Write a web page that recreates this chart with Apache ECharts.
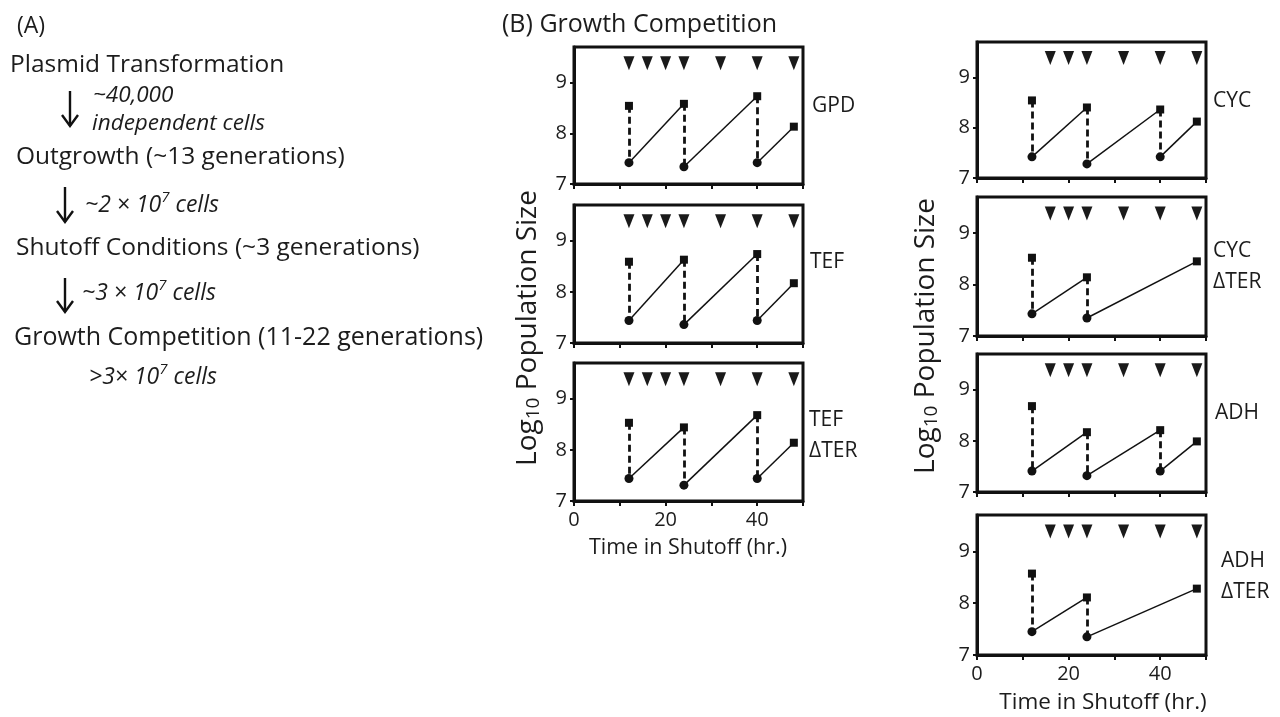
<!DOCTYPE html>
<html>
<head>
<meta charset="utf-8">
<script src="https://cdn.jsdelivr.net/npm/echarts@6/dist/echarts.min.js"></script>
<style>
  html, body { margin: 0; padding: 0; background: #fff; }
  #chart { width: 1280px; height: 717px; }
</style>
</head>
<body>
<div id="chart"></div>
<script>
// ---- Data: log10 population size around each transfer (hr in shutoff) ----
const panelNames = ['GPD', 'TEF', 'TEF\nΔTER', 'CYC', 'CYC\nΔTER', 'ADH', 'ADH\nΔTER'];

const gpdTimes = [12, 24, 40, 48];
const gpdPeak = [8.54, 8.58, 8.73, 8.13];      // before dilution
const gpdDiluted = [7.42, 7.34, 7.42];         // after dilution

const tefTimes = [12, 24, 40, 48];
const tefPeak = [8.59, 8.63, 8.74, 8.17];
const tefDiluted = [7.44, 7.36, 7.44];

const tefDterTimes = [12, 24, 40, 48];
const tefDterPeak = [8.53, 8.44, 8.68, 8.14];
const tefDterDiluted = [7.44, 7.31, 7.44];

const cycTimes = [12, 24, 40, 48];
const cycPeak = [8.54, 8.40, 8.36, 8.12];
const cycDiluted = [7.42, 7.28, 7.42];

const cycDterTimes = [12, 24, 48];
const cycDterPeak = [8.52, 8.14, 8.45];
const cycDterDiluted = [7.43, 7.35];

const adhTimes = [12, 24, 40, 48];
const adhPeak = [8.68, 8.17, 8.21, 7.99];
const adhDiluted = [7.41, 7.32, 7.41];

const adhDterTimes = [12, 24, 48];
const adhDterPeak = [8.57, 8.11, 8.28];
const adhDterDiluted = [7.45, 7.35];

// sampling times (triangles)
const samplingLeft = [12, 16, 20, 24, 32, 40, 48];
const samplingRight = [16, 20, 24, 32, 40, 48];

// tick labels
const yTickValues = [7, 8, 9];
const xTickLabels = [0, 20, 40];

// ---- Styling / layout ----
const INK = '#111111';
const TEXT = '#1c1c1c';
const FONT = '"Open Sans", "Noto Sans", sans-serif';
const MARK_LEVEL = 9.38;

const panels = [
  { times: gpdTimes, peak: gpdPeak, diluted: gpdDiluted, sampling: samplingLeft },
  { times: tefTimes, peak: tefPeak, diluted: tefDiluted, sampling: samplingLeft },
  { times: tefDterTimes, peak: tefDterPeak, diluted: tefDterDiluted, sampling: samplingLeft },
  { times: cycTimes, peak: cycPeak, diluted: cycDiluted, sampling: samplingRight },
  { times: cycDterTimes, peak: cycDterPeak, diluted: cycDterDiluted, sampling: samplingRight },
  { times: adhTimes, peak: adhPeak, diluted: adhDiluted, sampling: samplingRight },
  { times: adhDterTimes, peak: adhDterPeak, diluted: adhDterDiluted, sampling: samplingRight }
];

// plot boxes (px)
const frames = [
  { left: 574, top: 47, height: 137, bottomRow: false },
  { left: 574, top: 205, height: 138, bottomRow: false },
  { left: 574, top: 363, height: 138, bottomRow: true },
  { left: 977, top: 42, height: 136, bottomRow: false },
  { left: 977, top: 197, height: 139, bottomRow: false },
  { left: 977, top: 354, height: 138, bottomRow: false },
  { left: 977, top: 515, height: 140, bottomRow: true }
];
const FRAME_W = 229;

// panel name anchors (left x, first line centre y)
const nameAnchors = [
  [812, 106], [810, 262], [809, 420], [1213, 101], [1213, 251], [1215, 413], [1221, 561]
];

const grids = [], xAxes = [], yAxes = [], series = [];

frames.forEach((f, i) => {
  grids.push({
    left: f.left, top: f.top, width: FRAME_W, height: f.height,
    show: true, borderColor: INK, borderWidth: 3, backgroundColor: 'transparent',
    containLabel: false, outerBoundsMode: 'none'
  });
  xAxes.push({
    gridIndex: i, type: 'value', min: 0, max: 50, interval: 10,
    axisLine: { show: true, onZero: false, lineStyle: { color: INK, width: 3 } },
    axisTick: { show: true, inside: false, length: 5, lineStyle: { color: INK, width: 2 } },
    axisLabel: {
      show: f.bottomRow, customValues: xTickLabels, margin: 9,
      fontSize: 20, color: TEXT, fontFamily: FONT
    },
    splitLine: { show: false }
  });
  yAxes.push({
    gridIndex: i, type: 'value', min: 7, max: 9.7,
    axisLine: { show: true, onZero: false, lineStyle: { color: INK, width: 3 } },
    axisTick: { show: true, inside: false, length: 4, customValues: yTickValues, lineStyle: { color: INK, width: 2 } },
    axisLabel: {
      show: true, customValues: yTickValues, margin: 7,
      fontSize: 20, color: TEXT, fontFamily: FONT
    },
    splitLine: { show: false }
  });
});

panels.forEach((p, i) => {
  const growth = [], dilution = [];
  p.diluted.forEach((low, k) => {
    dilution.push({ coords: [[p.times[k], p.peak[k]], [p.times[k], low]] });
    growth.push({ coords: [[p.times[k], low], [p.times[k + 1], p.peak[k + 1]]] });
  });
  const common = { xAxisIndex: i, yAxisIndex: i, silent: true, animation: false };
  series.push(Object.assign({
    type: 'lines', coordinateSystem: 'cartesian2d', data: growth, z: 2,
    lineStyle: { color: INK, width: 1.5, type: 'solid', opacity: 1, curveness: 0 }
  }, common));
  series.push(Object.assign({
    type: 'lines', coordinateSystem: 'cartesian2d', data: dilution, z: 2,
    lineStyle: { color: INK, width: 2.8, type: [7, 4], opacity: 1, curveness: 0 }
  }, common));
  series.push(Object.assign({
    type: 'scatter', symbol: 'rect', symbolSize: 8, z: 3,
    itemStyle: { color: INK, opacity: 1 },
    data: p.times.map((t, k) => [t, p.peak[k]])
  }, common));
  series.push(Object.assign({
    type: 'scatter', symbol: 'circle', symbolSize: 9, z: 3,
    itemStyle: { color: INK, opacity: 1 },
    data: p.diluted.map((v, k) => [p.times[k], v])
  }, common));
  series.push(Object.assign({
    type: 'scatter', symbol: 'triangle', symbolRotate: 180, symbolSize: [11, 14], z: 3,
    itemStyle: { color: '#1a1a1a', opacity: 1 },
    data: p.sampling.map(t => [t, MARK_LEVEL])
  }, common));
});

// ---- Text and arrows ----
const graphics = [];
function txt(x, y, text, opts) {
  graphics.push({
    type: 'text', x: x, y: y, silent: true,
    style: Object.assign({
      text: text, fill: TEXT,
      fontFamily: FONT, fontSize: 22, align: 'left', verticalAlign: 'middle'
    }, opts || {})
  });
}
function arrow(x, y1, y2) {
  graphics.push({ type: 'line', silent: true,
    shape: { x1: x, y1: y1, x2: x, y2: y2 },
    style: { stroke: INK, lineWidth: 2.4 } });
  graphics.push({ type: 'polyline', silent: true,
    shape: { points: [[x - 8, y2 - 11], [x, y2], [x + 8, y2 - 11]] },
    style: { stroke: INK, lineWidth: 2.4, fill: null } });
}
const supRich = {
  t: { fontFamily: FONT, fontSize: 23, fontStyle: 'italic', fill: TEXT, verticalAlign: 'middle' },
  s: { fontFamily: FONT, fontSize: 15, fontStyle: 'italic', fill: TEXT, verticalAlign: 'middle', padding: [0, 0, 15, 0] }
};

// panel (A) workflow
txt(17, 26, '(A)', { fontSize: 23 });
txt(10, 65, 'Plasmid Transformation', { fontSize: 24.5 });
arrow(70, 91, 126);
txt(93, 96, '~40,000', { fontSize: 22.5, fontStyle: 'italic' });
txt(92, 124, 'independent cells', { fontSize: 22.5, fontStyle: 'italic' });
txt(16, 157, 'Outgrowth (~13 generations)', { fontSize: 24.5 });
arrow(65, 187, 222);
txt(85, 205, '{t|~2 × 10}{s|7}{t| cells}', { rich: supRich });
txt(16, 248, 'Shutoff Conditions (~3 generations)', { fontSize: 24.5 });
arrow(65, 278, 312);
txt(82, 293, '{t|~3 × 10}{s|7}{t| cells}', { rich: supRich });
txt(14, 338, 'Growth Competition (11-22 generations)', { fontSize: 25 });
txt(89, 377, '{t|>3× 10}{s|7}{t| cells}', { rich: supRich });

// panel (B) heading
txt(502, 25, '(B) Growth Competition', { fontSize: 25 });

// panel names
panelNames.forEach((name, i) => {
  const a = nameAnchors[i];
  name.split('\n').forEach((line, k) => {
    txt(a[0], a[1] + k * 31, line, { fontSize: 21 });
  });
});

// axis titles
const subRich = {
  t: { fontFamily: FONT, fontSize: 28, fill: TEXT, verticalAlign: 'middle' },
  s: { fontFamily: FONT, fontSize: 19, fill: TEXT, verticalAlign: 'middle', padding: [12, 0, 0, 0] }
};
[[528, 328], [926, 336]].forEach(pos => {
  graphics.push({
    type: 'text', x: pos[0], y: pos[1], rotation: Math.PI / 2, silent: true,
    style: { text: '{t|Log}{s|10}{t| Population Size}', rich: subRich,
      align: 'center', verticalAlign: 'middle' }
  });
});
[[688, 548, 21.5], [1103, 703, 22.5]].forEach(pos => {
  txt(pos[0], pos[1], 'Time in Shutoff (hr.)', { fontSize: pos[2], align: 'center' });
});

const chart = echarts.init(document.getElementById('chart'));
chart.setOption({
  backgroundColor: '#ffffff',
  animation: false,
  grid: grids,
  xAxis: xAxes,
  yAxis: yAxes,
  series: series,
  graphic: graphics
});
</script>
</body>
</html>
